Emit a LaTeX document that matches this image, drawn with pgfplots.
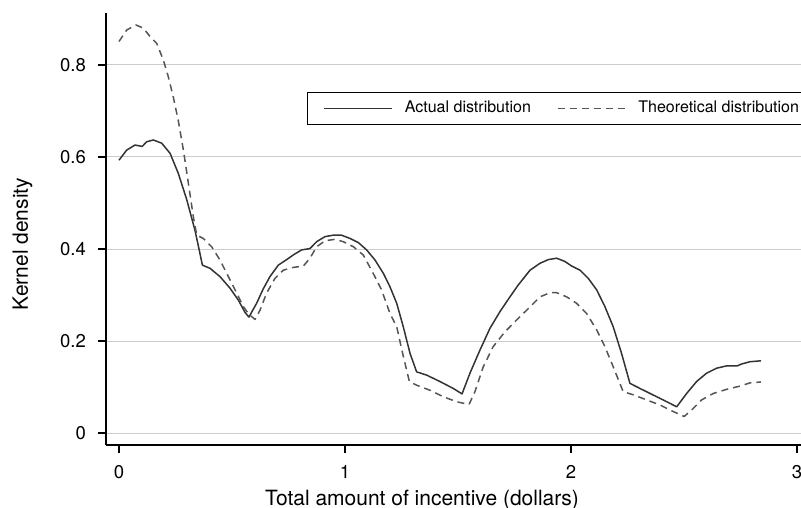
\documentclass[border=0pt]{standalone}
\usepackage{pgfplots}
\pgfplotsset{compat=1.18}
\usepackage{fontspec}
\setmainfont{TeX Gyre Heros}
\definecolor{solidc}{HTML}{333333}
\definecolor{dashc}{HTML}{555555}
\definecolor{gridc}{HTML}{CCCCCC}
\begin{document}
\begin{tikzpicture}
\useasboundingbox (0,0) rectangle (801bp,508bp);
\begin{axis}[
    at={(106bp,63bp)}, anchor=south west,
    scale only axis, width=695bp, height=432bp,
    xmin=-0.0575, xmax=3.018, ymin=-0.026, ymax=0.913,
    axis x line*=bottom, axis y line*=left,
    axis line style={-, black, line width=1.2bp},
    xtick={0,1,2,3}, ytick={0,0.2,0.4,0.6,0.8},
    tick align=outside, major tick length=8bp,
    tick style={black, line width=1.2bp},
    ymajorgrids, grid style={gridc, line width=1bp},
    /pgf/number format/assume math mode=true,
    tick label style={font=\fontsize{18.5bp}{22bp}\selectfont},
    yticklabel style={inner sep=0pt, xshift=-12bp},
    xticklabel style={inner sep=0pt, yshift=-12bp},
    xlabel={Total amount of incentive (dollars)},
    xlabel style={at={(axis description cs:0.4547,-0.139)}, anchor=base,
        font=\fontsize{21bp}{24bp}\selectfont},
    ylabel={Kernel density},
    ylabel style={at={(axis description cs:-0.120,0.465)}, anchor=center,
        font=\fontsize{21bp}{24bp}\selectfont},
    legend columns=2,
    legend image code/.code={\draw[#1] (0bp,0bp) -- (68bp,0bp);},
    legend style={at={(axis description cs:0.289,0.817)}, anchor=north west,
        draw=black, line width=1bp, fill=white,
        inner xsep=16bp, inner ysep=8.5bp,
        font=\fontsize{16bp}{19bp}\selectfont, legend cell align=left,
        nodes={inner sep=0pt, text height=11.5bp, text depth=3.5bp},
        /tikz/every odd column/.append style={column sep=12bp},
        /tikz/every even column/.append style={column sep=26bp}},
]

% actual distribution
\addplot[solidc, line width=1.5bp, line join=round] coordinates {
(0,0.593) (0.034,0.615) (0.071,0.626) (0.103,0.623) (0.122,0.633)
(0.152,0.637) (0.189,0.630) (0.226,0.608) (0.262,0.565) (0.300,0.507)
(0.336,0.441) (0.355,0.398) (0.369,0.365) (0.403,0.358) (0.447,0.340)
(0.491,0.315) (0.528,0.289) (0.558,0.262) (0.575,0.252) (0.609,0.282)
(0.639,0.314) (0.668,0.340) (0.705,0.365) (0.742,0.377) (0.771,0.387)
(0.808,0.398) (0.845,0.401) (0.875,0.416) (0.912,0.427) (0.948,0.430)
(0.985,0.430) (1.022,0.423) (1.059,0.414) (1.096,0.398) (1.133,0.376)
(1.170,0.347) (1.199,0.318) (1.229,0.282) (1.258,0.231) (1.288,0.173)
(1.317,0.133) (1.361,0.126) (1.420,0.112) (1.479,0.097) (1.518,0.085)
(1.553,0.130) (1.597,0.180) (1.642,0.228) (1.686,0.264) (1.730,0.296)
(1.767,0.322) (1.819,0.354) (1.863,0.369) (1.900,0.377) (1.937,0.380)
(1.973,0.373) (2.003,0.363) (2.040,0.354) (2.077,0.336) (2.114,0.311)
(2.150,0.275) (2.187,0.231) (2.224,0.173) (2.261,0.108) (2.305,0.097)
(2.350,0.086) (2.408,0.072) (2.468,0.057) (2.512,0.086) (2.556,0.112)
(2.600,0.130) (2.645,0.141) (2.689,0.146) (2.736,0.146) (2.755,0.150)
(2.792,0.155) (2.841,0.157)
};
\addlegendentry{Actual distribution}

% theoretical distribution
\addplot[dashc, line width=1.5bp, line join=round, dash pattern=on 7bp off 5bp] coordinates {
(0,0.851) (0.034,0.876) (0.075,0.887) (0.108,0.880) (0.137,0.862)
(0.167,0.847) (0.196,0.811) (0.218,0.775) (0.240,0.731) (0.262,0.680)
(0.285,0.615) (0.307,0.543) (0.329,0.470) (0.344,0.430) (0.373,0.423)
(0.410,0.405) (0.447,0.376) (0.484,0.340) (0.521,0.304) (0.550,0.275)
(0.575,0.258) (0.602,0.247) (0.624,0.267) (0.653,0.304) (0.690,0.336)
(0.727,0.354) (0.771,0.360) (0.816,0.363) (0.845,0.380) (0.875,0.405)
(0.912,0.418) (0.956,0.421) (0.992,0.416) (1.037,0.405) (1.081,0.387)
(1.125,0.347) (1.162,0.311) (1.199,0.260) (1.229,0.231) (1.258,0.167)
(1.285,0.112) (1.317,0.104) (1.376,0.093) (1.435,0.079) (1.494,0.068)
(1.549,0.062) (1.575,0.090) (1.612,0.144) (1.656,0.188) (1.708,0.220)
(1.760,0.246) (1.804,0.267) (1.863,0.296) (1.907,0.305) (1.937,0.305)
(1.981,0.296) (2.025,0.282) (2.069,0.260) (2.114,0.224) (2.150,0.188)
(2.187,0.144) (2.231,0.090) (2.276,0.083) (2.335,0.072) (2.394,0.061)
(2.438,0.050) (2.501,0.036) (2.534,0.050) (2.578,0.072) (2.630,0.086)
(2.689,0.095) (2.748,0.102) (2.792,0.109) (2.841,0.111)
};
\addlegendentry{Theoretical distribution}

\end{axis}
\end{tikzpicture}
\end{document}
